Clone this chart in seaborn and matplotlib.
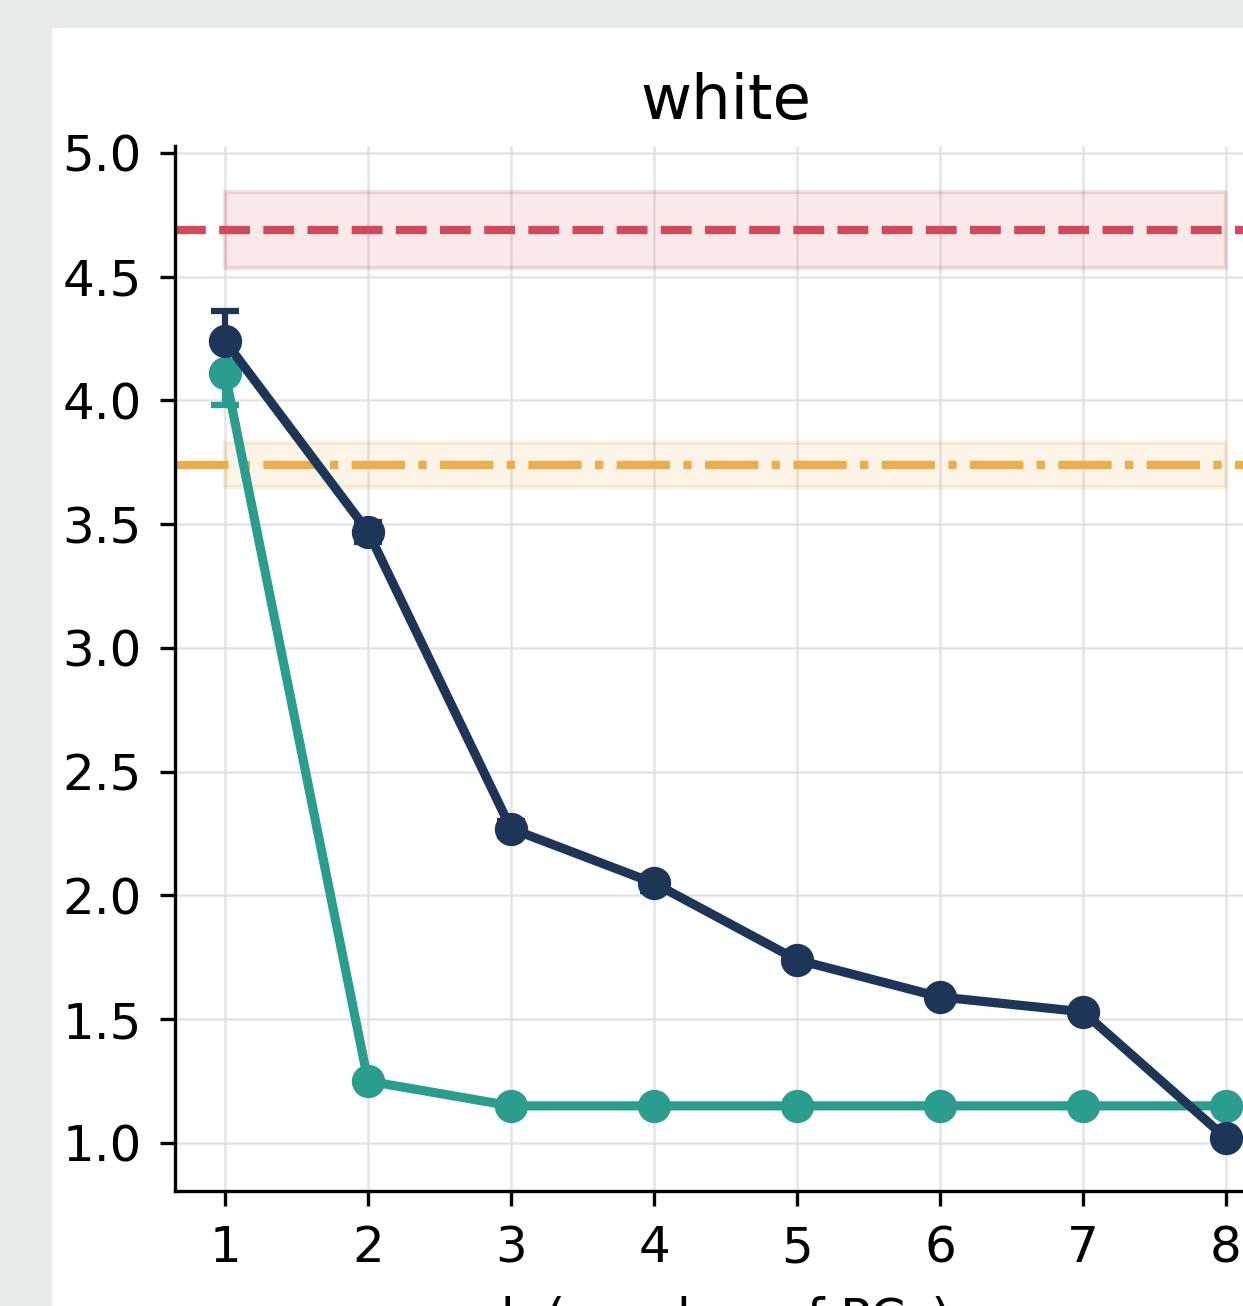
import numpy as np
import pandas as pd
import matplotlib
matplotlib.use("Agg")
import matplotlib.pyplot as plt
import seaborn as sns
from matplotlib.patches import Rectangle

# -------------------------
# DATA
# -------------------------
k_values = [1, 2, 3, 4, 5, 6, 7, 8]
navy_mean = [4.24, 3.47, 2.27, 2.05, 1.74, 1.59, 1.53, 1.02]
navy_err = [0.12, 0.04, 0.03, 0.03, 0.02, 0.02, 0.02, 0.01]
teal_mean = [4.11, 1.25, 1.15, 1.15, 1.15, 1.15, 1.15, 1.15]
teal_err = [0.13, 0.01, 0.0, 0.0, 0.0, 0.0, 0.0, 0.0]

red_ref = 4.69
red_band = (4.535, 4.842)
orange_ref = 3.74
orange_band = (3.65, 3.828)

title = "white"
xlabel = "k (number of PCs)"

# -------------------------
# STYLE
# -------------------------
NAVY = "#1d3557"
TEAL = "#2a9d8f"
RED = "#d1495b"
ORANGE = "#edae49"
BG = "#e8ece9"

sns.set_style("ticks")
plt.rcParams["font.family"] = ["DejaVu Sans"]
plt.rcParams.update({
    "text.color": "black",
    "axes.labelcolor": "black",
    "axes.edgecolor": "black",
    "xtick.color": "black",
    "ytick.color": "black",
})

DPI = 300
fig = plt.figure(figsize=(1243 / DPI, 1306 / DPI), dpi=DPI, facecolor=BG)

# white card behind the plot (the reference is a crop of a larger page)
fig.patches.append(Rectangle((52 / 1243, 0), 1.0, 1 - 28 / 1306,
                             transform=fig.transFigure, facecolor="white",
                             edgecolor="none", zorder=-10))

ax = fig.add_axes([175 / 1243, 1 - 1191 / 1306, (1276 - 175) / 1243, (1191 - 146) / 1306])
ax.set_facecolor("white")

df = pd.DataFrame({
    "k": k_values * 2,
    "value": teal_mean + navy_mean,
    "series": ["teal"] * len(k_values) + ["navy"] * len(k_values),
})

# reference bands + lines
ax.fill_between([1, 8], *red_band, facecolor=(0.82, 0.29, 0.36, 0.12), lw=1.0,
                edgecolor=(0.82, 0.29, 0.36, 0.18), zorder=1)
ax.fill_between([1, 8], *orange_band, facecolor=(0.93, 0.68, 0.29, 0.13), lw=1.0,
                edgecolor=(0.93, 0.68, 0.29, 0.18), zorder=1)
ax.axhline(red_ref, color=RED, ls="--", lw=2.0, zorder=2)
ax.axhline(orange_ref, color=ORANGE, ls="-.", lw=2.0, zorder=2)

# error bars sit under the markers
ax.errorbar(k_values, teal_mean, yerr=teal_err, fmt="none", ecolor=TEAL,
            elinewidth=1.5, capsize=3.4, capthick=1.5, zorder=2.5)
ax.errorbar(k_values, navy_mean, yerr=navy_err, fmt="none", ecolor=NAVY,
            elinewidth=1.5, capsize=3.4, capthick=1.5, zorder=2.6)

# series (teal first so navy sits on top)
sns.lineplot(data=df, x="k", y="value", hue="series", hue_order=["teal", "navy"],
             palette={"teal": TEAL, "navy": NAVY}, marker="o", markersize=8,
             markeredgewidth=0, lw=2.2, legend=False, ax=ax, zorder=3)
for line in ax.lines:
    if line.get_color() == NAVY:
        line.set_zorder(4)

ax.set_xlim(0.65, 8.35)
ax.set_ylim(0.806, 5.028)
ax.set_xticks(k_values)
ax.set_yticks([1.0, 1.5, 2.0, 2.5, 3.0, 3.5, 4.0, 4.5, 5.0])
ax.tick_params(labelsize=12, pad=4.5)
ax.grid(True, color="#dedede", lw=0.6, alpha=0.8)
ax.set_axisbelow(True)
sns.despine(ax=ax)

ax.set_title(title, fontsize=15, pad=6.5)
ax.set_xlabel(xlabel, fontsize=12, labelpad=5.5)
ax.set_ylabel("")

fig.savefig("out.png", dpi=DPI, facecolor=BG)
